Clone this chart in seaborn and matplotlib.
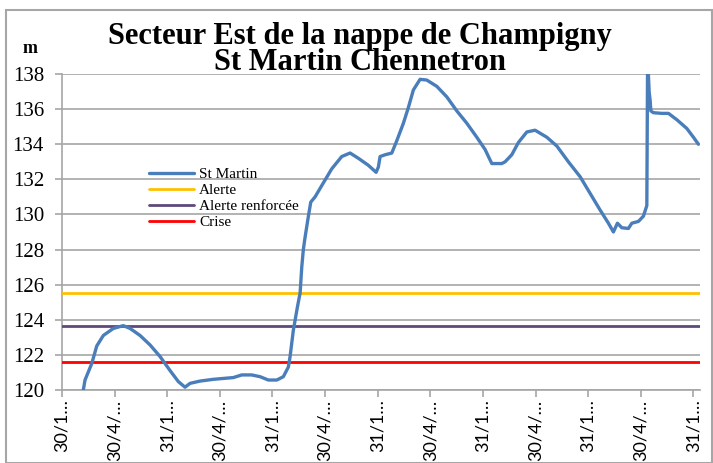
import numpy as np
import pandas as pd
import seaborn as sns
import matplotlib.pyplot as plt
from matplotlib.patches import Rectangle

# Position le long de l'axe (en intervalles de graduation, 0 = première date)
pos = [0.405, 0.437, 0.565, 0.660, 0.785, 0.975, 1.165, 1.293, 1.483, 1.673,
       1.863, 2.053, 2.211, 2.338, 2.433, 2.624, 2.876, 3.257, 3.416, 3.606,
       3.764, 3.922, 4.082, 4.207, 4.302, 4.335, 4.397, 4.473, 4.511, 4.525,
       4.557, 4.587, 4.620, 4.683, 4.728, 4.810, 4.968, 5.127, 5.317, 5.475,
       5.633, 5.823, 5.970, 6.013, 6.046, 6.141, 6.268, 6.363, 6.489, 6.584,
       6.679, 6.806, 6.933, 7.124, 7.314, 7.504, 7.694, 7.884, 8.042, 8.169,
       8.359, 8.422, 8.549, 8.675, 8.835, 8.992, 9.215, 9.405, 9.625, 9.848,
       10.038, 10.228, 10.386, 10.481, 10.557, 10.641, 10.766, 10.831, 10.956, 11.051,
       11.116, 11.131, 11.160, 11.179, 11.192, 11.241, 11.401, 11.527, 11.686, 11.876,
       12.002, 12.097]
niveau = [120.0, 120.56, 121.5, 122.5, 123.1, 123.5, 123.66, 123.5, 123.1, 122.56,
          121.9, 121.1, 120.47, 120.15, 120.37, 120.5, 120.6, 120.7, 120.85, 120.85,
          120.75, 120.56, 120.56, 120.75, 121.3, 121.9, 123.4, 124.7, 125.3, 125.5,
          127.0, 128.0, 128.7, 129.9, 130.7, 131.0, 131.8, 132.6, 133.3, 133.5,
          133.2, 132.8, 132.4, 132.7, 133.3, 133.4, 133.5, 134.2, 135.2, 136.1,
          137.1, 137.7, 137.66, 137.3, 136.7, 135.9, 135.2, 134.4, 133.7, 132.9,
          132.9, 133.0, 133.4, 134.1, 134.7, 134.8, 134.4, 133.9, 133.0, 132.15,
          131.2, 130.25, 129.5, 129.0, 129.5, 129.24, 129.2, 129.5, 129.6, 129.9,
          130.5, 139.0, 137.0, 136.5, 135.9, 135.8, 135.76, 135.76, 135.4, 134.9,
          134.4, 134.0]

seuils_noms = ['Alerte', 'Alerte renforcée', 'Crise']
seuils_valeurs = [125.5, 123.65, 121.6]
seuils_couleurs = ['#FFC000', '#5F497A', '#FF0000']

tick_labels = ['30/1…', '30/4/…', '31/1…', '30/4/…', '31/1…', '30/4/…', '31/1…',
               '30/4/…', '31/1…', '30/4/…', '31/1…', '30/4/…', '31/1…']

df = pd.DataFrame({'pos': pos, 'niveau': niveau})

sns.set_style('white')
plt.rcParams['text.color'] = 'black'
fig = plt.figure(figsize=(7.13, 4.63), dpi=100)
ax = fig.add_axes([0.087, 0.158, 0.895, 0.682])

ax.set_ylim(120, 138)
ax.set_xlim(0, 12.13)
ax.set_yticks(np.arange(120, 139, 2))
ax.yaxis.grid(True, color='#A6A6A6', linewidth=1.2)
ax.set_axisbelow(True)

sns.lineplot(data=df, x='pos', y='niveau', ax=ax, color='#4A7EBB',
             linewidth=2.4, label='St Martin', zorder=5)
for nom, val, coul in zip(seuils_noms, seuils_valeurs, seuils_couleurs):
    ax.axhline(val, color=coul, linewidth=2.0, label=nom, zorder=4)

ax.set_xlabel('')
ax.set_ylabel('')
ax.set_xticks(range(len(tick_labels)))
ax.set_xticklabels(tick_labels, rotation=90, family='Lato', fontsize=13, color='black')
for t in ax.get_yticklabels():
    t.set_family('Liberation Serif')
    t.set_fontsize(15)
    t.set_color('black')

for s in ['top', 'right']:
    ax.spines[s].set_visible(False)
for s in ['left', 'bottom']:
    ax.spines[s].set_color('#A6A6A6')
    ax.spines[s].set_linewidth(1.2)
ax.tick_params(axis='both', which='major', direction='out', length=5,
               color='#A6A6A6', width=1.2, bottom=True, left=True, pad=2)
ax.tick_params(axis='y', pad=8)

leg = ax.legend(loc='upper left', bbox_to_anchor=(0.126, 0.723), frameon=False,
                prop={'family': 'Liberation Serif', 'size': 11},
                handlelength=3.0, labelspacing=0.15, handletextpad=0.3,
                borderaxespad=0)
for t in leg.get_texts():
    t.set_color('black')

fig.text(0.505, 0.906, 'Secteur Est de la nappe de Champigny',
         ha='center', va='baseline', family='Liberation Serif',
         fontweight='bold', fontsize=22, color='black')
fig.text(0.505, 0.849, 'St Martin Chennetron',
         ha='center', va='baseline', family='Liberation Serif',
         fontweight='bold', fontsize=22, color='black')
fig.text(0.042, 0.886, 'm', ha='center', va='baseline',
         family='Liberation Serif', fontweight='bold', fontsize=13, color='black')

fig.patches.append(Rectangle((0.009, 0.0), 0.99, 0.978, transform=fig.transFigure,
                             fill=False, edgecolor='#A6A6A6', linewidth=1.5))

fig.savefig('out.png', dpi=100)
